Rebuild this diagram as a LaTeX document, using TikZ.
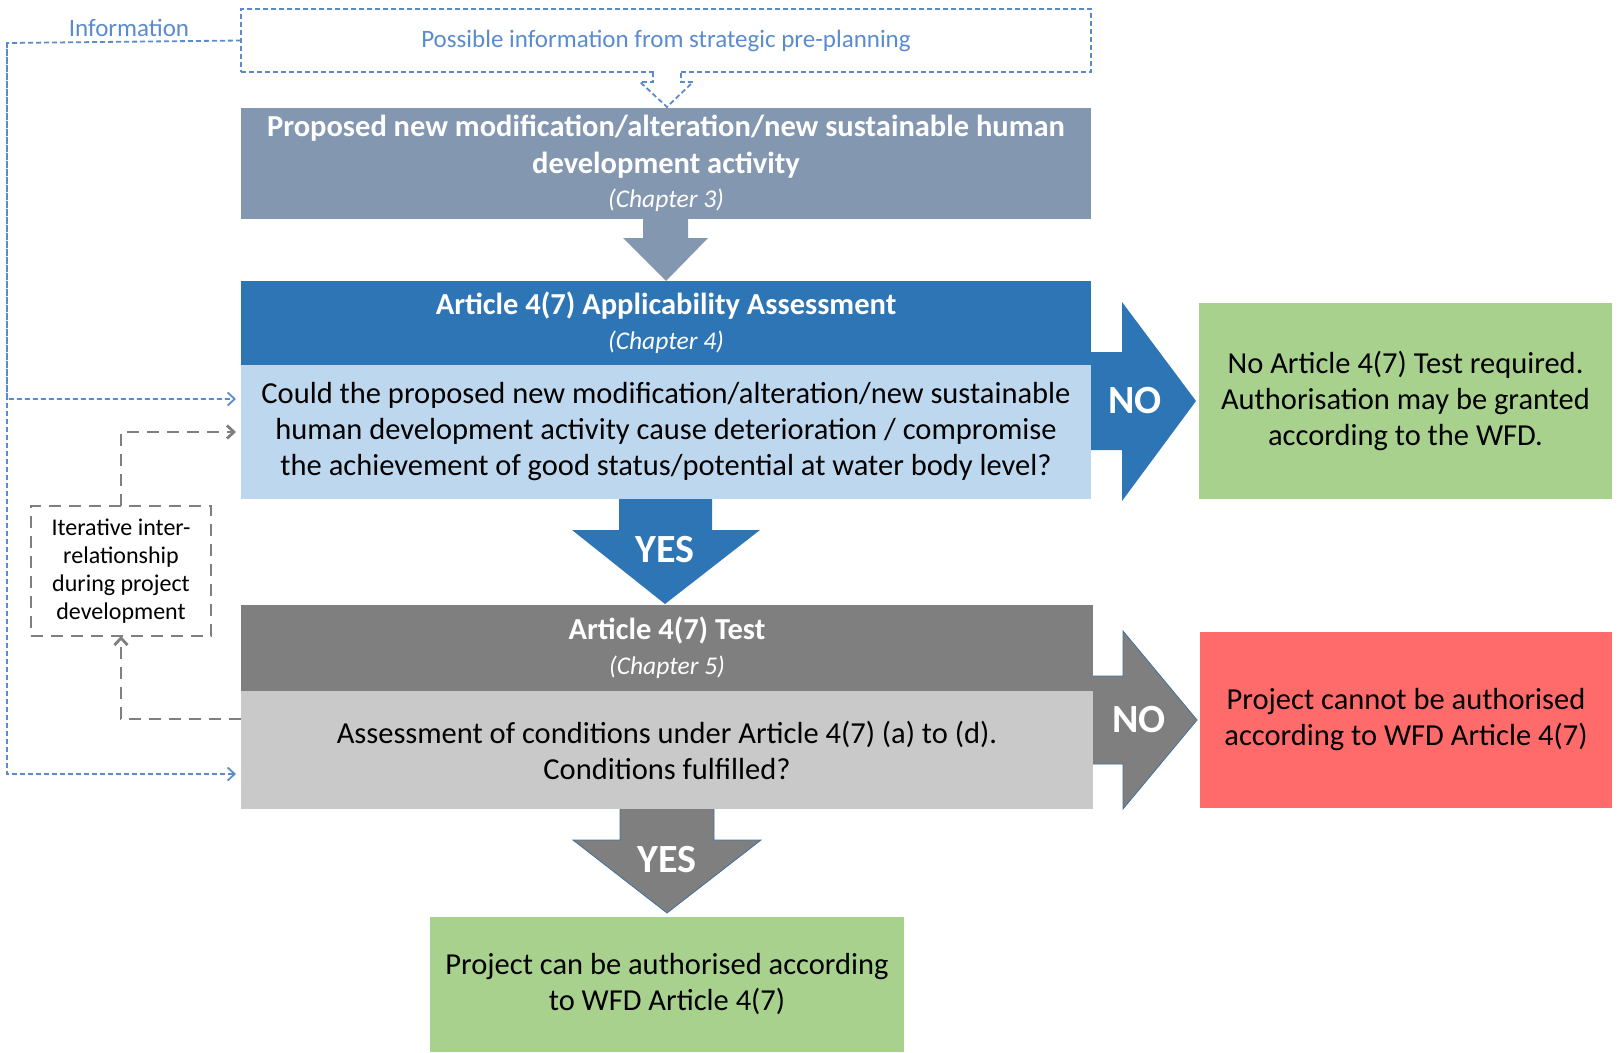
\documentclass[tikz,border=0pt]{standalone}
\usepackage{fontspec}
\setmainfont{Carlito}
\usepackage{xcolor}
\usetikzlibrary{arrows.meta,positioning}
\definecolor{proposal}{HTML}{8497B0}
\definecolor{artblue}{HTML}{2E75B6}
\definecolor{artlight}{HTML}{BDD7EE}
\definecolor{testdark}{HTML}{7F7F7F}
\definecolor{testlight}{HTML}{C9C9C9}
\definecolor{okgreen}{HTML}{A9D18E}
\definecolor{nored}{HTML}{FF6B6B}
\definecolor{infoblue}{HTML}{5B8BCF}
\definecolor{edgeblue}{HTML}{41719C}
\tikzset{
  box/.style={rectangle, inner sep=0pt, outer sep=0pt, align=center, anchor=north west},
  bodytext/.style={font=\fontsize{30.5}{36}\selectfont},
  headtext/.style={font=\fontsize{30.5}{37}\selectfont\bfseries, text=white},
  yesno/.style={font=\fontsize{40}{44}\selectfont\bfseries, text=white},
  infoline/.style={infoblue, dash pattern=on 5pt off 3pt, line width=1.8pt},
  iterline/.style={testdark, dash pattern=on 12pt off 8pt, line width=2.8pt}
}
\newcommand{\chap}[1]{{\fontsize{25.5}{28}\selectfont\mdseries\itshape #1}}
\begin{document}
\begin{tikzpicture}[x=1pt,y=-1pt]
\useasboundingbox (0,0) rectangle (1622,1052);

\node (prep) [box, draw=infoblue, infoline, minimum width=850pt, minimum height=63pt, text=infoblue, font=\fontsize{25}{28}\selectfont] at (241,9) {Possible information from strategic pre-planning};
\node (info) [text=infoblue, font=\fontsize{25}{28}\selectfont] at (129,28) {Information};
\draw[white, line width=3pt] (654,72) -- (680,72);
\filldraw[infoline, fill=white] (653,72) -- (653,82) -- (640,82) -- (667,107) -- (693,82) -- (681,82) -- (681,72);

\node (proposal) [box, fill=proposal, headtext, minimum width=850pt, minimum height=111pt] at (241,108) {Proposed new modification/alteration/new sustainable human\\ development activity\\[-3pt] \chap{(Chapter 3)}};
\fill[proposal] (643,219) -- (643,238) -- (623,238) -- (666,281) -- (708,238) -- (688,238) -- (688,219) -- cycle;

\node (a2head) [box, fill=artblue, headtext, minimum width=850pt, minimum height=84pt] at (241,281) {Article 4(7) Applicability Assessment\\[-2pt] \chap{(Chapter 4)}};
\node (a2body) [box, fill=artlight, bodytext, minimum width=850pt, minimum height=134pt] at (241,365) {Could the proposed new modification/alteration/new sustainable\\ human development activity cause deterioration / compromise\\ the achievement of good status/potential at water body level?};

\fill[artblue] (1091,352) -- (1122,352) -- (1122,302) -- (1196,401) -- (1122,501) -- (1122,450) -- (1091,450) -- cycle;
\node (noone) [yesno] at (1135,401) {NO};
\node (nottest) [box, fill=okgreen, bodytext, minimum width=413pt, minimum height=196pt] at (1199,303) {No Article 4(7) Test required.\\ Authorisation may be granted\\ according to the WFD.};

\fill[artblue] (619,499) -- (619,530) -- (572,530) -- (665,604) -- (760,530) -- (712,530) -- (712,499) -- cycle;
\node (yesone) [yesno] at (665,550) {YES};

\node (thead) [box, fill=testdark, headtext, minimum width=852pt, minimum height=86pt] at (241,605) {Article 4(7) Test\\[-2pt] \chap{(Chapter 5)}};
\node (tbody) [box, fill=testlight, bodytext, minimum width=852pt, minimum height=118pt] at (241,691) {Assessment of conditions under Article 4(7) (a) to (d).\\ Conditions fulfilled?};

\filldraw[fill=testdark, draw=edgeblue, line width=0.8pt] (1093,676) -- (1123,676) -- (1123,631) -- (1197,720) -- (1123,809) -- (1123,764) -- (1093,764);
\node (notwo) [yesno] at (1139,720) {NO};
\node (refused) [box, fill=nored, bodytext, minimum width=412pt, minimum height=176pt] at (1200,632) {Project cannot be authorised\\ according to WFD Article 4(7)};

\filldraw[fill=testdark, draw=edgeblue, line width=0.8pt] (620,809) -- (620,840) -- (573,840) -- (667,913) -- (761,840) -- (714,840) -- (714,809);
\node (yestwo) [yesno] at (667,860) {YES};
\node (granted) [box, fill=okgreen, bodytext, minimum width=474pt, minimum height=135pt] at (430,917) {Project can be authorised according\\ to WFD Article 4(7)};

\node (iter) [box, draw=testdark, iterline, minimum width=180pt, minimum height=130pt, text=black, font=\fontsize{24}{28}\selectfont] at (31,506) {Iterative inter-\\ relationship\\ during project\\ development};

\coordinate (infocorner) at (7,43);
\draw[infoline, -{Straight Barb[length=7pt,width=13pt]}] (prep.west) -- (infocorner) |- ([xshift=-5pt,yshift=33pt]a2body.west);
\draw[infoline, -{Straight Barb[length=7pt,width=13pt]}] (infocorner) |- ([xshift=-5pt,yshift=-24pt]tbody.west);
\draw[iterline, -{Straight Barb[length=7pt,width=13pt]}] (iter.north) |- ([xshift=-5pt]a2body.west);
\draw[iterline, -{Straight Barb[length=7pt,width=13pt]}] ([yshift=31pt]tbody.west) -| (iter.south);
\end{tikzpicture}
\end{document}
